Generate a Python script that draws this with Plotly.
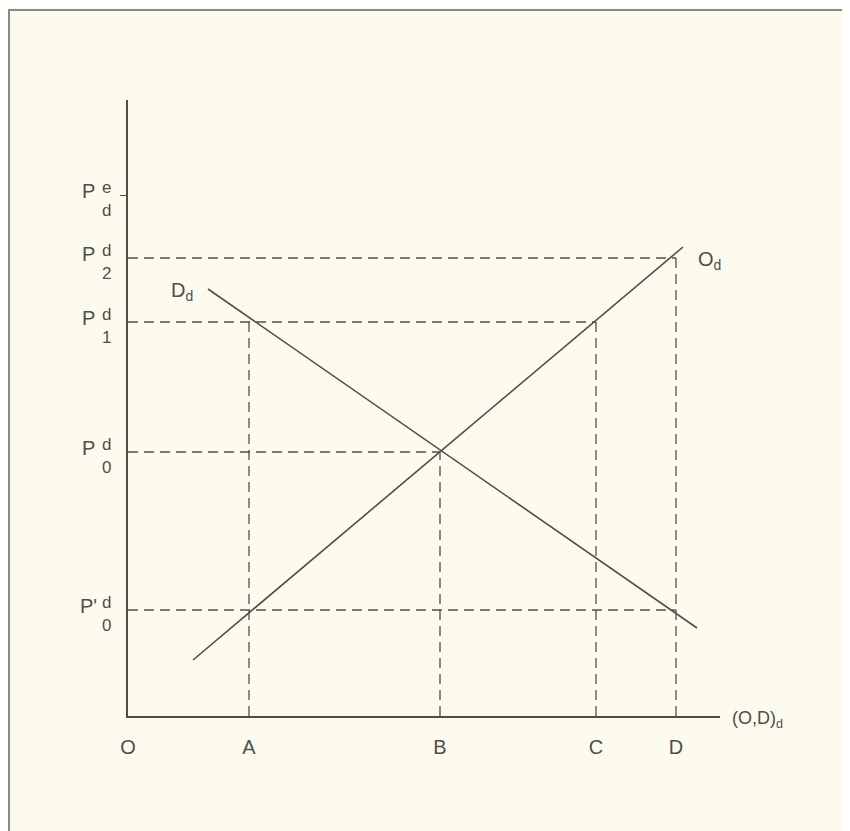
import plotly.graph_objects as go

# quantities on the horizontal axis (O, A, B, C, D)
q_names = ["O", "A", "B", "C", "D"]
q_vals = [0, 6.05, 15.6, 23.4, 27.4]

# price levels on the vertical axis: P with stacked super/subscript
p_sup = ["e", "d", "d", "d", "d"]
p_sub = ["d", "2", "1", "0", "0"]
p_prime = [False, False, False, False, True]
p_vals = [26.05, 22.9, 19.7, 13.2, 5.3]

# supply (O_d) and demand (D_d) lines
supply_q = [3.25, 27.75]
supply_p = [2.8, 23.45]
demand_q = [4.0, 28.45]
demand_p = [21.35, 4.4]

# dashed guides: (price level, quantity it runs to)
h_guides = [(22.9, 27.4), (19.7, 23.4), (13.2, 15.6), (5.3, 27.4)]
v_guides = [(6.05, 19.7), (15.6, 13.2), (23.4, 19.7), (27.4, 22.9)]

INK = "#4f4f4a"
BG = "#fcfbee"
FONT = "Liberation Sans"

fig = go.Figure()

for p, q in h_guides:
    fig.add_trace(go.Scatter(x=[0, q], y=[p, p], mode="lines",
                             line=dict(color=INK, width=1.3, dash="10px,6px"),
                             hoverinfo="skip"))
for q, p in v_guides:
    fig.add_trace(go.Scatter(x=[q, q], y=[0, p], mode="lines",
                             line=dict(color=INK, width=1.3, dash="10px,6px"),
                             hoverinfo="skip"))

fig.add_trace(go.Scatter(x=supply_q, y=supply_p, mode="lines",
                         line=dict(color=INK, width=1.6), hoverinfo="skip"))
fig.add_trace(go.Scatter(x=demand_q, y=demand_p, mode="lines",
                         line=dict(color=INK, width=1.6), hoverinfo="skip"))

for i, p in enumerate(p_vals):
    fig.add_annotation(x=0, xref="paper", y=p, yref="y", xanchor="center",
                       xshift=-40, yshift=4,
                       text=("P'" if p_prime[i] else "P"), showarrow=False,
                       font=dict(family=FONT, size=20, color=INK))
    fig.add_annotation(x=0, xref="paper", y=p, yref="y", xanchor="center",
                       xshift=-22, yshift=8, text=p_sup[i], showarrow=False,
                       font=dict(family=FONT, size=17, color=INK))
    fig.add_annotation(x=0, xref="paper", y=p, yref="y", xanchor="center",
                       xshift=-22, yshift=-15, text=p_sub[i], showarrow=False,
                       font=dict(family=FONT, size=17, color=INK))

fig.add_annotation(x=supply_q[1], y=supply_p[1], xshift=26, yshift=-13,
                   text="O<sub>d</sub>", showarrow=False,
                   font=dict(family=FONT, size=20, color=INK))
fig.add_annotation(x=demand_q[0], y=demand_p[0], xshift=-26, yshift=-2,
                   text="D<sub>d</sub>", showarrow=False,
                   font=dict(family=FONT, size=20, color=INK))
fig.add_annotation(x=1, xref="paper", y=0, yref="y", xanchor="left", xshift=10,
                   yshift=-3, text="(O,D)<sub>d</sub>", showarrow=False,
                   font=dict(family=FONT, size=18, color=INK))

# page border of the scanned figure
fig.add_shape(type="path", xref="paper", yref="paper",
              path="M -0.201,-0.19 L -0.201,1.146 L 1.211,1.146 L 1.211,-0.19",
              line=dict(color="#8a8a84", width=2))

fig.update_xaxes(range=[0, 29.6], tickvals=q_vals, ticktext=q_names,
                 showgrid=False, zeroline=False, showline=True,
                 linecolor=INK, linewidth=1.6, ticks="", ticklabelstandoff=12,
                 tickfont=dict(family=FONT, size=20, color=INK))
fig.update_yaxes(range=[0, 30.8], tickvals=[p_vals[0]], showticklabels=False,
                 showgrid=False, zeroline=False, showline=True,
                 linecolor=INK, linewidth=1.6, ticks="outside", ticklen=6,
                 tickcolor=INK, tickwidth=1.4)

# the page body adds an 8px offset, so the figure is 8px smaller than the window
fig.update_layout(width=842, height=823, showlegend=False,
                  margin=dict(l=120, r=130, t=92, b=115),
                  paper_bgcolor=BG, plot_bgcolor=BG)

fig.write_html("out.html")
